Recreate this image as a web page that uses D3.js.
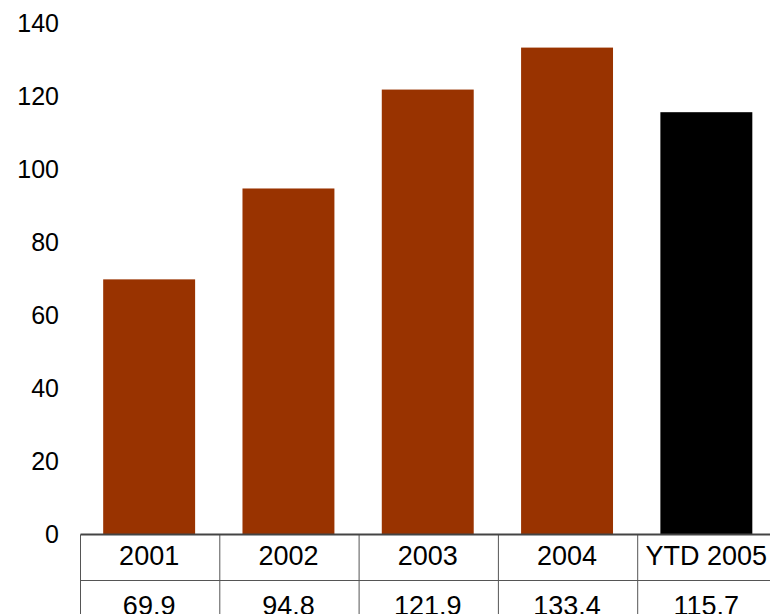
<!DOCTYPE html>
<html>
<head>
<meta charset="utf-8">
<script src="https://cdn.jsdelivr.net/npm/d3@7"></script>
<style>
  body { margin: 0; background: #fff; }
  text { font-family: "Liberation Sans", Arial, sans-serif; }
</style>
</head>
<body>
<div id="chart"></div>
<script>
const categories = ["2001", "2002", "2003", "2004", "YTD 2005"]
const values = [69.9, 94.8, 121.9, 133.4, 115.7]
const valueLabels = ["69.9", "94.8", "121.9", "133.4", "115.7"]
const barColors = ["#993300", "#993300", "#993300", "#993300", "#000000"]
const yTicks = [0, 20, 40, 60, 80, 100, 120, 140]

const width = 770
const height = 614

const svg = d3.select("#chart").append("svg")
    .attr("width", width)
    .attr("height", height)

// scales
const xScale = d3.scaleBand(categories, [80.5, 777]).paddingInner(0).paddingOuter(0)
const yScale = d3.scaleLinear([0, 140], [534.5, 23.5])

const barWidth = xScale.bandwidth() * 0.66

// bars
svg.append("g")
    .selectAll("rect")
    .data(categories)
    .join("rect")
    .attr("x", (d, i) => xScale(d) + (xScale.bandwidth() - barWidth) / 2 - 1)
    .attr("y", (d, i) => yScale(values[i]))
    .attr("width", barWidth)
    .attr("height", (d, i) => yScale(0) - yScale(values[i]))
    .attr("fill", (d, i) => barColors[i])

// y axis labels
const yAxis = d3.axisLeft(yScale).tickValues(yTicks).tickSize(0).tickPadding(0)
const yg = svg.append("g").attr("transform", "translate(59,0)").call(yAxis)
yg.select(".domain").remove()
yg.selectAll("text")
    .attr("font-size", 25)
    .attr("font-family", "Liberation Sans, Arial, sans-serif")
    .attr("fill", "#000")

// data table under the axis
const rowTop = yScale(0)
const rowH = 46
const table = svg.append("g")

// vertical grid lines
const edges = categories.map(d => xScale(d)).concat([xScale.range()[1]])
table.selectAll("line.v")
    .data(edges)
    .join("line")
    .attr("class", "v")
    .attr("x1", d => d).attr("x2", d => d)
    .attr("y1", rowTop).attr("y2", rowTop + rowH * 2)
    .attr("stroke", "#555")
    .attr("stroke-width", 1)

// horizontal lines
table.selectAll("line.h")
    .data([rowTop + rowH, rowTop + rowH * 2])
    .join("line")
    .attr("class", "h")
    .attr("x1", xScale.range()[0]).attr("x2", xScale.range()[1])
    .attr("y1", d => d).attr("y2", d => d)
    .attr("stroke", "#555")
    .attr("stroke-width", 1)

// baseline
svg.append("line")
    .attr("x1", xScale.range()[0]).attr("x2", xScale.range()[1])
    .attr("y1", rowTop).attr("y2", rowTop)
    .attr("stroke", "#444")
    .attr("stroke-width", 2)

table.selectAll("text.cat")
    .data(categories)
    .join("text")
    .attr("class", "cat")
    .attr("x", d => xScale(d) + xScale.bandwidth() / 2 - 1)
    .attr("y", 565)
    .attr("text-anchor", "middle")
    .attr("font-size", 27)
    .text(d => d)

table.selectAll("text.val")
    .data(categories)
    .join("text")
    .attr("class", "val")
    .attr("x", d => xScale(d) + xScale.bandwidth() / 2 - 1)
    .attr("y", 615)
    .attr("text-anchor", "middle")
    .attr("font-size", 27)
    .text((d, i) => valueLabels[i])
</script>
</body>
</html>
